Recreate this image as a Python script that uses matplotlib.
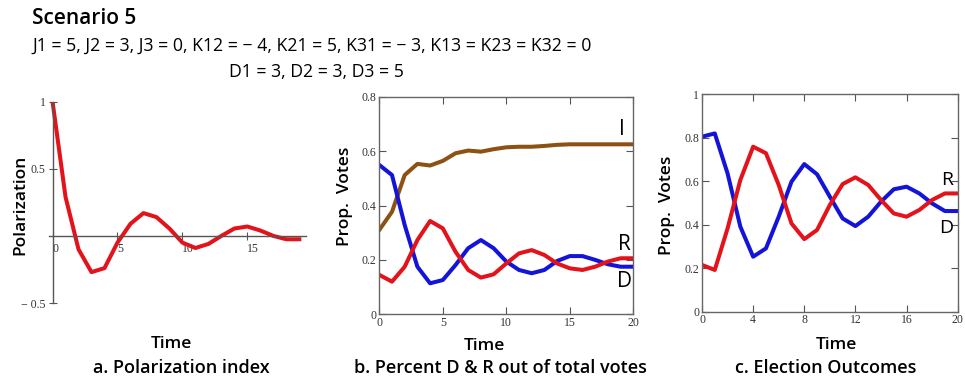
import matplotlib
matplotlib.use("Agg")
import matplotlib.pyplot as plt

# time steps
t_a = list(range(0, 20))
t = list(range(0, 21))

# a. polarization index
polarization = [1.0, 0.29, -0.10, -0.27, -0.24, -0.05, 0.09, 0.17, 0.14, 0.055,
                -0.05, -0.09, -0.06, 0.0, 0.055, 0.07, 0.04, 0.0, -0.025, -0.025]

# b. share of total votes
b_dem = [0.549, 0.512, 0.328, 0.175, 0.114, 0.126, 0.181, 0.243, 0.273, 0.243, 0.194,
         0.163, 0.151, 0.163, 0.196, 0.214, 0.214, 0.200, 0.184, 0.175, 0.175]
b_rep = [0.145, 0.120, 0.175, 0.273, 0.343, 0.316, 0.230, 0.163, 0.135, 0.147, 0.187,
         0.224, 0.236, 0.218, 0.187, 0.169, 0.163, 0.175, 0.194, 0.206, 0.206]
b_ind = [0.310, 0.377, 0.512, 0.553, 0.547, 0.564, 0.592, 0.602, 0.598, 0.607, 0.614,
         0.616, 0.616, 0.619, 0.623, 0.625, 0.625, 0.625, 0.625, 0.625, 0.625]

# c. election outcomes
c_dem = [0.805, 0.820, 0.636, 0.391, 0.253, 0.291, 0.437, 0.598, 0.679, 0.632, 0.529,
         0.429, 0.394, 0.437, 0.506, 0.563, 0.575, 0.544, 0.498, 0.463, 0.463]
c_rep = [0.215, 0.192, 0.383, 0.606, 0.759, 0.729, 0.583, 0.406, 0.334, 0.376, 0.491,
         0.587, 0.618, 0.583, 0.514, 0.452, 0.437, 0.468, 0.514, 0.544, 0.544]

RED = "#e3131b"
BLUE = "#1414d8"
BROWN = "#8c5214"
LW = 2.9
TXT = "Open Sans"
TICKFONT = "Liberation Serif"

fig = plt.figure(figsize=(9.65, 3.78), dpi=100)


def px(x, y):
    return x / 965, 1 - y / 378


def style_ticks(ax):
    for lab in ax.get_xticklabels() + ax.get_yticklabels():
        lab.set_fontfamily(TICKFONT)
        lab.set_fontsize(8.5)
        lab.set_color("#333333")


# ---- a
ax_a = fig.add_axes([49.3 / 965, 75 / 378, 256.5 / 965, 201.3 / 378])
ax_a.plot(t_a, polarization, color=RED, lw=LW)
ax_a.set_xlim(-0.25, 19.5)
ax_a.set_ylim(-0.5, 1.0)
ax_a.spines["left"].set_position(("data", 0))
ax_a.spines["bottom"].set_position(("data", 0))
ax_a.spines["top"].set_visible(False)
ax_a.spines["right"].set_visible(False)
for s in ("left", "bottom"):
    ax_a.spines[s].set_color("#555555")
    ax_a.spines[s].set_linewidth(1.0)
ax_a.set_xticks([0, 5, 10, 15])
ax_a.set_yticks([-0.5, 0.5, 1])
ax_a.set_yticklabels(["\u2212 0.5", "0.5", "1"])
ax_a.tick_params(direction="inout", length=6, width=0.8, pad=2, colors="#555555")
style_ticks(ax_a)
for lab in ax_a.get_xticklabels():
    lab.set_horizontalalignment("left")

# ---- b
ax_b = fig.add_axes([379.3 / 965, 63.7 / 378, 254 / 965, 217.6 / 378])
ax_b.plot(t, b_ind, color=BROWN, lw=LW)
ax_b.plot(t, b_dem, color=BLUE, lw=LW)
ax_b.plot(t, b_rep, color=RED, lw=LW)
ax_b.set_xlim(0, 20)
ax_b.set_ylim(0, 0.8)
ax_b.set_xticks([0, 5, 10, 15, 20])
ax_b.set_yticks([0, 0.2, 0.4, 0.6, 0.8])
ax_b.set_xticklabels(["0", "5", "10", "15", "20"])
ax_b.set_yticklabels(["0", "0.2", "0.4", "0.6", "0.8"])
ax_b.text(19.1, 0.678, "I", fontsize=15, family=TXT, ha="center", va="center")
ax_b.text(19.3, 0.258, "R", fontsize=15, family=TXT, ha="center", va="center")
ax_b.text(19.3, 0.119, "D", fontsize=15, family=TXT, ha="center", va="center")

# ---- c
ax_c = fig.add_axes([702 / 965, 66.3 / 378, 255.7 / 965, 217.4 / 378])
ax_c.plot(t, c_dem, color=BLUE, lw=LW)
ax_c.plot(t, c_rep, color=RED, lw=LW)
ax_c.set_xlim(0, 20)
ax_c.set_ylim(0, 1)
ax_c.set_xticks([0, 4, 8, 12, 16, 20])
ax_c.set_yticks([0, 0.2, 0.4, 0.6, 0.8, 1])
ax_c.set_yticklabels(["0", "0.2", "0.4", "0.6", "0.8", "1"])
ax_c.text(19.15, 0.606, "R", fontsize=14, family=TXT, ha="center", va="center")
ax_c.text(19.1, 0.385, "D", fontsize=14, family=TXT, ha="center", va="center")

for ax in (ax_b, ax_c):
    for s in ax.spines.values():
        s.set_color("#666666")
        s.set_linewidth(1.0)
    ax.tick_params(direction="in", length=5, width=0.8, top=True, right=True,
                   pad=2, colors="#555555")
    style_ticks(ax)

# ---- axis labels and captions
lab_kw = dict(family=TXT, fontsize=12.5, fontweight="semibold", ha="center", va="center")
cap_kw = dict(lab_kw, fontsize=13)
fig.text(*px(20, 205), "Polarization", rotation=90, **lab_kw)
fig.text(*px(345, 196), "Prop.  Votes", rotation=90, **lab_kw)
fig.text(*px(667, 205), "Prop.  Votes", rotation=90, **lab_kw)
fig.text(*px(171, 344), "Time", **lab_kw)
fig.text(*px(484, 346), "Time", **lab_kw)
fig.text(*px(836, 345), "Time", **lab_kw)
fig.text(*px(181, 368), "a. Polarization index", **cap_kw)
fig.text(*px(500, 368), "b. Percent D & R out of total votes", **cap_kw)
fig.text(*px(826, 368), "c. Election Outcomes", **cap_kw)

# ---- header
fig.text(*px(32, 18), "Scenario 5", family=TXT, fontsize=15, fontweight="semibold",
         ha="left", va="center")
fig.text(*px(32, 46),
         "J1 = 5, J2 = 3, J3 = 0, K12 = \u2212 4, K21 = 5, K31 = \u2212 3, K13 = K23 = K32 = 0",
         family=TXT, fontsize=12.7, ha="left", va="center")
fig.text(*px(316, 72), "D1 = 3, D2 = 3, D3 = 5", family=TXT, fontsize=12.7,
         ha="center", va="center")

fig.savefig("out.png", dpi=100)
